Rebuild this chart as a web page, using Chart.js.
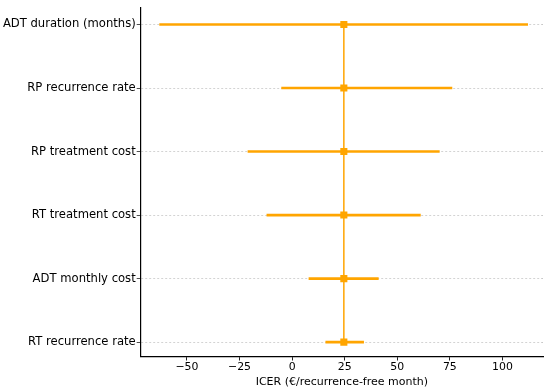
<!DOCTYPE html>
<html>
<head>
<meta charset="utf-8">
<script src="https://cdn.jsdelivr.net/npm/chart.js@4"></script>
<style>
  html, body { margin: 0; padding: 0; background: #fff; }
  #wrap { width: 550px; height: 390px; }
</style>
</head>
<body>
<div id="wrap"><canvas id="tornado"></canvas></div>
<script>
const categories = ['ADT duration (months)', 'RP recurrence rate', 'RP treatment cost',
                    'RT treatment cost', 'ADT monthly cost', 'RT recurrence rate'];
const lowValues = [-63, -5, -21, -12, 8, 16];
const highValues = [112, 76, 70, 61, 41, 34];
const baseIcer = 24.6;
const xTicks = [-50, -25, 0, 25, 50, 75, 100];

document.addEventListener('DOMContentLoaded', function () {
    const ctx = document.getElementById('tornado').getContext('2d');
    const orange = '#ffa500';

    new Chart(ctx, {
        data: {
            datasets: [{
                type: 'bar',
                label: 'range',
                data: categories.map((c, i) => ({ y: i, x: [lowValues[i], highValues[i]] })),
                backgroundColor: orange,
                borderWidth: 0,
                barThickness: 2,
                order: 2
            }, {
                type: 'line',
                label: 'base',
                data: categories.map((c, i) => ({ y: i, x: baseIcer })),
                borderColor: orange,
                borderWidth: 1.5,
                backgroundColor: orange,
                pointStyle: 'rect',
                pointRadius: 5,
                pointBorderWidth: 0,
                order: 1
            }]
        },
        options: {
            indexAxis: 'y',
            responsive: true,
            maintainAspectRatio: false,
            animation: false,
            layout: { padding: { top: 3, right: 7, left: 0, bottom: 0 } },
            plugins: {
                legend: { display: false },
                tooltip: { enabled: false }
            },
            scales: {
                x: {
                    type: 'linear',
                    min: -72,
                    max: 119.3,
                    afterBuildTicks: axis => {
                        axis.ticks = xTicks.map(v => ({ value: v }));
                    },
                    afterFit: axis => { axis.height = 33.5; },
                    ticks: {
                        color: '#000',
                        font: { family: 'DejaVu Sans', size: 10.9 },
                        padding: 0,
                        callback: v => String(v).replace('-', '\u2212')
                    },
                    grid: { drawOnChartArea: false, tickLength: 4, tickColor: '#222' },
                    border: { color: '#000', width: 1.2 },
                    title: {
                        display: true,
                        text: 'ICER (€/recurrence-free month)',
                        color: '#000',
                        font: { family: 'DejaVu Sans', size: 11 },
                        padding: { top: 0, bottom: 1 }
                    }
                },
                y: {
                    type: 'linear',
                    reverse: true,
                    offset: false,
                    min: -0.26,
                    max: 5.226,
                    afterBuildTicks: axis => {
                        axis.ticks = categories.map((c, i) => ({ value: i }));
                    },
                    afterFit: axis => { axis.width = 140.7; },
                    ticks: {
                        color: '#000',
                        font: { family: 'DejaVu Sans', size: 11.6 },
                        padding: 1,
                        callback: v => categories[v]
                    },
                    grid: {
                        offset: false,
                        color: '#c8c8c8',
                        lineWidth: 0.8,
                        tickBorderDash: [],
                        tickLength: 4,
                        tickColor: '#222'
                    },
                    border: { color: '#000', width: 1.2, dash: [2, 2] }
                }
            }
        }
    });
});
</script>
</body>
</html>
